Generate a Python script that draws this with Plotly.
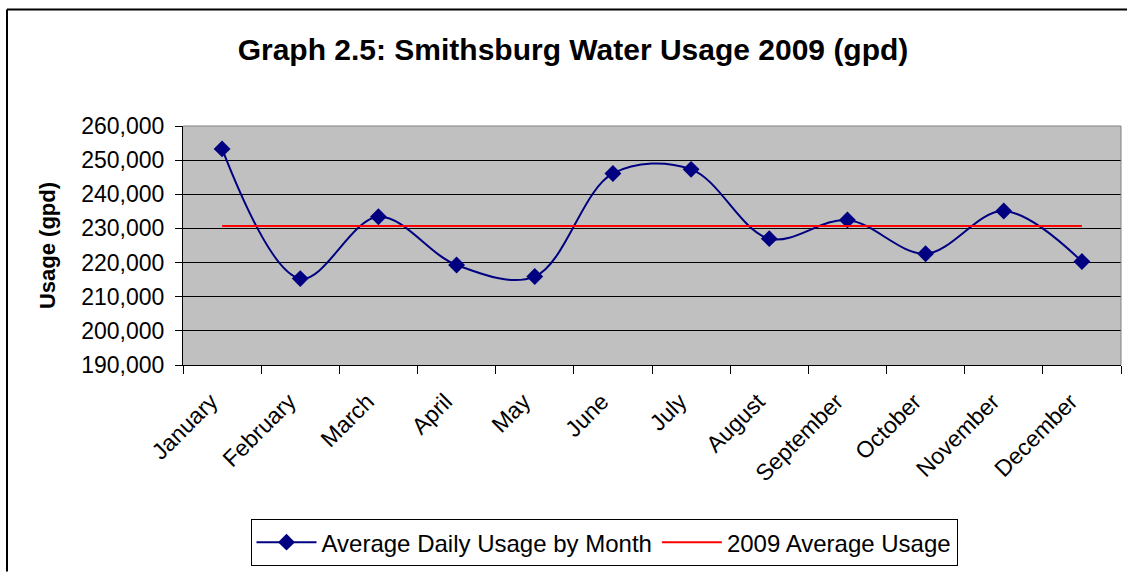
import plotly.graph_objects as go

months = ["January", "February", "March", "April", "May", "June", "July",
          "August", "September", "October", "November", "December"]
daily_usage = [253300, 215300, 233400, 219300, 215900, 246100, 247300,
               227000, 232450, 222600, 235100, 220300]
avg_usage_2009 = 230700
y_ticks = [190000, 200000, 210000, 220000, 230000, 240000, 250000, 260000]

W, H = 1127, 572
ML, MR, MT, MB = 183, 6, 126, 204
PW, PH = W - ML - MR, H - MT - MB

def px(x):
    return (x - ML) / PW

def py(y):
    return (H - MB - y) / PH

fig = go.Figure()
fig.add_trace(go.Scatter(
    x=months, y=daily_usage, mode="lines+markers",
    name="Average Daily Usage by Month",
    line=dict(color="#000080", width=2, shape="spline", smoothing=1.0),
    marker=dict(symbol="diamond", size=13, color="#000080"),
))
fig.add_trace(go.Scatter(
    x=months, y=[avg_usage_2009] * len(months), mode="lines",
    name="2009 Average Usage",
    line=dict(color="#FF0000", width=2),
))

font = "Liberation Sans, Arial, sans-serif"
fig.update_layout(
    width=W, height=H,
    margin=dict(l=ML, r=MR, t=MT, b=MB),
    paper_bgcolor="white", plot_bgcolor="#C0C0C0",
    font=dict(family=font, color="black"),
    title=dict(text="<b>Graph 2.5: Smithsburg Water Usage 2009 (gpd)</b>",
               x=573 / W, xanchor="center", y=1 - 49 / H, yanchor="middle",
               font=dict(size=30, family=font, color="black")),
    showlegend=True,
    legend=dict(orientation="h", x=px(604), xanchor="center",
                y=py(524), yanchor="top",
                bordercolor="black", borderwidth=1, bgcolor="white",
                font=dict(size=24, family=font, color="black"),
                itemwidth=60, tracegroupgap=0),
    xaxis=dict(type="category", tickson="boundaries", ticks="outside",
               ticklen=8, tickcolor="black", tickangle=-45,
               ticklabelstandoff=13, ticklabelshift=-11,
               showline=True, linecolor="black", linewidth=1,
               showgrid=False, mirror=False,
               tickfont=dict(size=23, family=font, color="black"),
               range=[-0.5, 11.5]),
    yaxis=dict(range=[190000, 260000], tickvals=y_ticks, tickformat=",",
               ticks="outside", ticklen=7, tickcolor="black",
               ticklabelstandoff=6,
               showline=True, linecolor="black", linewidth=1,
               showgrid=True, gridcolor="black", gridwidth=1,
               zeroline=False,
               tickfont=dict(size=23, family=font, color="black"),
               title=dict(text="<b>Usage (gpd)</b>", standoff=19,
                          font=dict(size=22, family=font, color="black"))),
)

# plot area top/right border (gray)
fig.add_shape(type="line", xref="paper", yref="paper", x0=0, x1=1, y0=1, y1=1,
              line=dict(color="#808080", width=1))
fig.add_shape(type="line", xref="paper", yref="paper", x0=1, x1=1, y0=0, y1=1,
              line=dict(color="#808080", width=1))
# chart outer border
fig.add_shape(type="line", xref="paper", yref="paper",
              x0=px(7), x1=px(W + 5), y0=py(8), y1=py(8),
              line=dict(color="black", width=2))
fig.add_shape(type="line", xref="paper", yref="paper",
              x0=px(7), x1=px(7), y0=py(8), y1=py(H + 5),
              line=dict(color="black", width=2))

fig.write_html("out.html", config={"displayModeBar": False},
               post_script="document.body.style.margin='0';document.body.style.overflow='hidden';")
